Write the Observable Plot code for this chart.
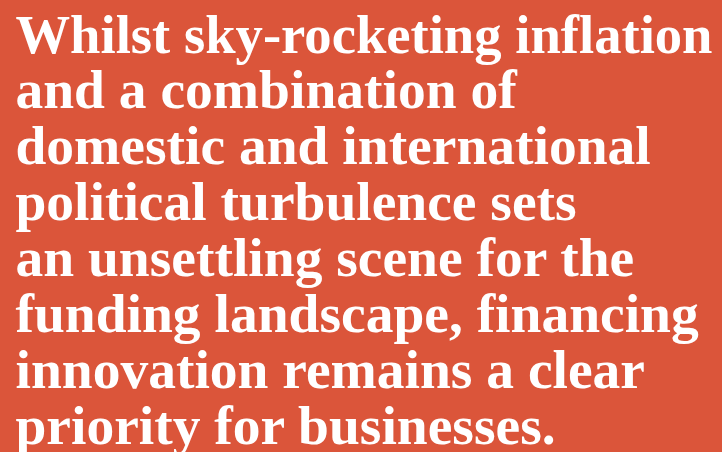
<!DOCTYPE html>
<html>
<head>
<meta charset="utf-8">
<script src="https://cdn.jsdelivr.net/npm/d3@7"></script>
<script src="https://cdn.jsdelivr.net/npm/@observablehq/plot@0.6"></script>
<style>
  html, body { margin: 0; padding: 0; background: #DB553A; overflow: hidden; }
  #chart svg { display: block; }
</style>
</head>
<body>
<div id="chart"></div>
<script>
const lines = [
  "Whilst sky-rocketing inflation",
  "and a combination of",
  "domestic and international",
  "political turbulence sets",
  "an unsettling scene for the",
  "funding landscape, financing",
  "innovation remains a clear",
  "priority for businesses."
];
const lineIndex = lines.map((_, i) => i);

const chart = Plot.plot({
  width: 722,
  height: 452,
  margin: 0,
  style: { background: "#DB553A", overflow: "hidden" },
  x: { domain: [0, 1], range: [15, 721], axis: null },
  y: { domain: [0, lines.length - 1], range: [52, 443], axis: null },
  marks: [
    Plot.text(lineIndex, {
      x: () => 0,
      y: (d) => d,
      text: (d) => lines[d],
      textAnchor: "start",
      lineAnchor: "bottom",
      fill: "white",
      fontSize: 55.5,
      fontWeight: "bold",
      fontFamily: "Liberation Serif"
    })
  ]
});
document.getElementById("chart").appendChild(chart);

// keep every line inside the text column (fit long lines to the column width)
const maxWidth = 697;
chart.querySelectorAll("text").forEach((t) => {
  const w = t.getComputedTextLength();
  if (w > maxWidth) {
    t.setAttribute("textLength", maxWidth);
    t.setAttribute("lengthAdjust", "spacingAndGlyphs");
  }
});
</script>
</body>
</html>
